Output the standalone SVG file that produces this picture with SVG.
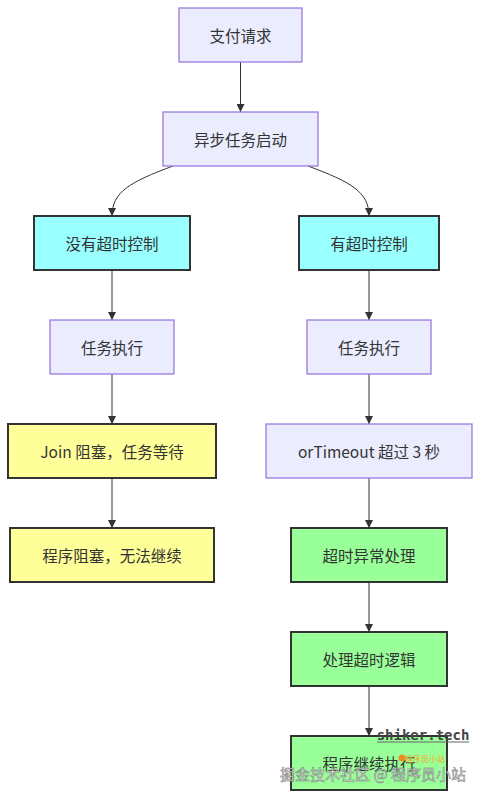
<svg xmlns="http://www.w3.org/2000/svg" width="481" height="798" viewBox="0 0 481 798">
<style>
.p{fill:#ECECFF;stroke:#9370DB;stroke-width:1.2}
.c{fill:#99FFFF;stroke:#333;stroke-width:2}
.y{fill:#FFFF99;stroke:#333;stroke-width:2}
.g{fill:#99FF99;stroke:#333;stroke-width:2}
text{font-family:"Noto Sans CJK SC","Noto Sans",sans-serif;font-size:15.5px;fill:#333;text-anchor:middle;dominant-baseline:central}
.e{fill:none;stroke:#333;stroke-width:1}
</style>
<defs>
<marker id="ah" viewBox="0 0 10 10" refX="10" refY="5" markerWidth="8" markerHeight="8" markerUnits="userSpaceOnUse" orient="auto">
<path d="M0,0 L10,5 L0,10 z" fill="#333"/>
</marker>
</defs>
<rect width="481" height="798" fill="#fff"/>
<g id="edges">
<path class="e" d="M240.5,62 L240.5,112" marker-end="url(#ah)"/>
<path class="e" d="M173,166 C130,182 112,192 112,216" marker-end="url(#ah)"/>
<path class="e" d="M308,166 C351,182 369,192 369,216" marker-end="url(#ah)"/>
<path class="e" d="M112,270 L112,320" marker-end="url(#ah)"/>
<path class="e" d="M369,270 L369,320" marker-end="url(#ah)"/>
<path class="e" d="M112,374 L112,424" marker-end="url(#ah)"/>
<path class="e" d="M369,374 L369,424" marker-end="url(#ah)"/>
<path class="e" d="M112,478 L112,528" marker-end="url(#ah)"/>
<path class="e" d="M369,478 L369,528" marker-end="url(#ah)"/>
<path class="e" d="M369,582 L369,632" marker-end="url(#ah)"/>
<path class="e" d="M369,686 L369,736" marker-end="url(#ah)"/>
</g>
<g id="n1"><rect class="p" x="179" y="8" width="123" height="54"/><text x="240.5" y="35">支付请求</text></g>
<g id="n2"><rect class="p" x="163" y="112" width="155" height="54"/><text x="240.5" y="139">异步任务启动</text></g>
<g id="n3"><rect class="c" x="34" y="216" width="156" height="54"/><text x="112" y="243">没有超时控制</text></g>
<g id="n4"><rect class="c" x="299" y="216" width="140" height="54"/><text x="369" y="243">有超时控制</text></g>
<g id="n5"><rect class="p" x="50" y="320" width="124" height="54"/><text x="112" y="347">任务执行</text></g>
<g id="n6"><rect class="p" x="307" y="320" width="124" height="54"/><text x="369" y="347">任务执行</text></g>
<g id="n7"><rect class="y" x="8" y="424" width="208" height="54"/><text x="112" y="451">Join 阻塞，任务等待</text></g>
<g id="n8"><rect class="p" x="266" y="424" width="206" height="54"/><text x="369" y="451">orTimeout 超过 3 秒</text></g>
<g id="n9"><rect class="y" x="10" y="528" width="204" height="54"/><text x="112" y="555">程序阻塞，无法继续</text></g>
<g id="n10"><rect class="g" x="291" y="528" width="156" height="54"/><text x="369" y="555">超时异常处理</text></g>
<g id="n11"><rect class="g" x="291" y="632" width="156" height="54"/><text x="369" y="659">处理超时逻辑</text></g>
<g id="n12"><rect class="g" x="291" y="736" width="156" height="54"/><text x="369" y="763">程序继续执行</text></g>
<g id="watermark">
<text x="423" y="735" style="font-family:'DejaVu Sans Mono',monospace;font-weight:bold;font-size:14px;fill:#444">shiker.tech</text>
<line x1="377" y1="742" x2="469" y2="742" stroke="#666" stroke-width="1"/>
<circle cx="402" cy="758" r="3.5" fill="#F08A24"/>
<text x="425" y="758" style="font-size:8px;fill:#F5A623">程序员小站</text>
<text x="373" y="773" style="font-size:15px;fill:#e8e8e8;stroke:#777;stroke-width:0.5px">掘金技术社区 @ 程序员小站</text>
</g>
</svg>
